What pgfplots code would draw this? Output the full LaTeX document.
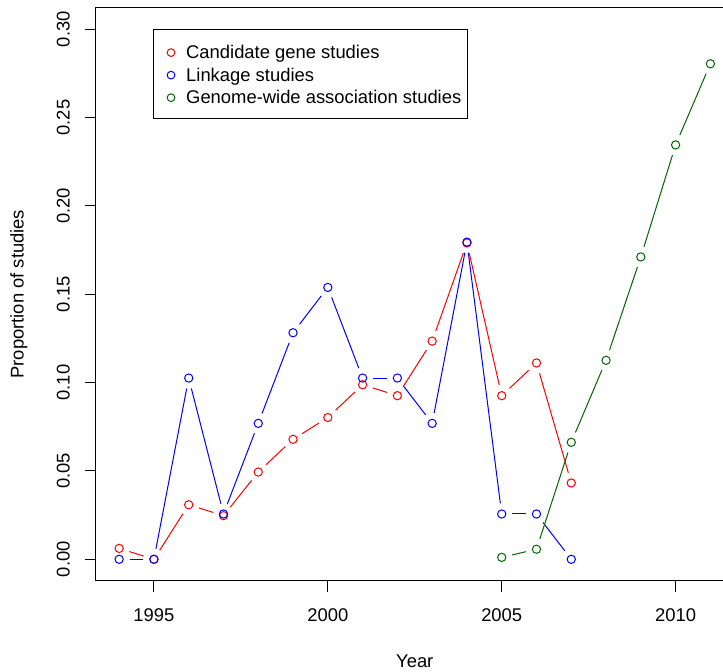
\documentclass[border=0pt]{standalone}
\usepackage{pgfplots}
\pgfplotsset{compat=1.18}
\usepackage{fontspec}
\setmainfont{Liberation Sans}
\definecolor{rgreen}{RGB}{0,100,0}
\newcommand{\fnt}{\fontsize{13.8}{16.5}\selectfont}
\newcommand{\seg}[5]{\addplot[#1,no marks,forget plot,line width=0.75pt,shorten <=8pt,shorten >=8pt] coordinates {(#2,#3) (#4,#5)};}
\begin{document}
\begin{tikzpicture}
\begin{axis}[
  name=ax,
  scale only axis,
  width=478.9pt, height=429.4pt,
  xmin=1993.32, xmax=2011.68,
  ymin=-0.012, ymax=0.312,
  axis line style={line width=0.75pt},
  tick style={line width=0.75pt, black},
  tick align=outside,
  tick pos=left,
  major tick length=8.25pt,
  xtick={1995,2000,2005,2010},
  xticklabels={1995,2000,2005,2010},
  ytick={0,0.05,0.10,0.15,0.20,0.25,0.30},
  yticklabels={0.00,0.05,0.10,0.15,0.20,0.25,0.30},
  tick label style={font=\fnt},
  xticklabel style={anchor=center},
  yticklabel style={rotate=90, anchor=center},
  xticklabel shift=17.5pt,
  yticklabel shift=16pt,
  xlabel={Year},
  ylabel={Proportion of studies},
  label style={font=\fnt},
  xlabel style={at={([yshift=-60.4pt]axis description cs:0.5,0)}, anchor=center},
  ylabel style={at={([xshift=-57.4pt]axis description cs:0,0.5)}, anchor=center, rotate=0},
  legend style={at={(axis description cs:0.0906,0.9633)}, anchor=north west,
    draw=black, line width=0.75pt, inner xsep=4.5pt, inner ysep=8pt,
    font=\fnt, nodes={inner xsep=0pt, inner ysep=0pt, text height=14pt, text depth=2.9pt},
    /tikz/every even column/.append style={column sep=2pt}},
  legend cell align=left,
  legend image code/.code={\draw[#1] plot[only marks] coordinates {(8pt,-0.9pt)}; \path (0pt,0pt) (19pt,0pt);},
]
% Candidate gene studies
\seg{red}{1994}{0.00617}{1995}{0}
\seg{red}{1995}{0}{1996}{0.03086}
\seg{red}{1996}{0.03086}{1997}{0.02469}
\seg{red}{1997}{0.02469}{1998}{0.04938}
\seg{red}{1998}{0.04938}{1999}{0.06790}
\seg{red}{1999}{0.06790}{2000}{0.08025}
\seg{red}{2000}{0.08025}{2001}{0.09877}
\seg{red}{2001}{0.09877}{2002}{0.09259}
\seg{red}{2002}{0.09259}{2003}{0.12346}
\seg{red}{2003}{0.12346}{2004}{0.17901}
\seg{red}{2004}{0.17901}{2005}{0.09259}
\seg{red}{2005}{0.09259}{2006}{0.11111}
\seg{red}{2006}{0.11111}{2007}{0.04321}
\addplot[red, only marks, mark=o, mark size=3.1pt, line width=0.75pt, forget plot] coordinates {
(1994,0.00617) (1995,0) (1996,0.03086) (1997,0.02469) (1998,0.04938) (1999,0.06790) (2000,0.08025)
(2001,0.09877) (2002,0.09259) (2003,0.12346) (2004,0.17901) (2005,0.09259) (2006,0.11111) (2007,0.04321)};
% Linkage studies
\seg{blue}{1994}{0}{1995}{0}
\seg{blue}{1995}{0}{1996}{0.10256}
\seg{blue}{1996}{0.10256}{1997}{0.02564}
\seg{blue}{1997}{0.02564}{1998}{0.07692}
\seg{blue}{1998}{0.07692}{1999}{0.12821}
\seg{blue}{1999}{0.12821}{2000}{0.15385}
\seg{blue}{2000}{0.15385}{2001}{0.10256}
\seg{blue}{2001}{0.10256}{2002}{0.10256}
\seg{blue}{2002}{0.10256}{2003}{0.07692}
\seg{blue}{2003}{0.07692}{2004}{0.17949}
\seg{blue}{2004}{0.17949}{2005}{0.02564}
\seg{blue}{2005}{0.02564}{2006}{0.02564}
\seg{blue}{2006}{0.02564}{2007}{0}
\addplot[blue, only marks, mark=o, mark size=3.1pt, line width=0.75pt, forget plot] coordinates {
(1994,0) (1995,0) (1996,0.10256) (1997,0.02564) (1998,0.07692) (1999,0.12821) (2000,0.15385)
(2001,0.10256) (2002,0.10256) (2003,0.07692) (2004,0.17949) (2005,0.02564) (2006,0.02564) (2007,0)};
% GWAS
\seg{rgreen}{2005}{0.0011}{2006}{0.0057}
\seg{rgreen}{2006}{0.0057}{2007}{0.0662}
\seg{rgreen}{2007}{0.0662}{2008}{0.1126}
\seg{rgreen}{2008}{0.1126}{2009}{0.1711}
\seg{rgreen}{2009}{0.1711}{2010}{0.2345}
\seg{rgreen}{2010}{0.2345}{2011}{0.2804}
\addplot[rgreen, only marks, mark=o, mark size=3.1pt, line width=0.75pt, forget plot] coordinates {
(2005,0.0011) (2006,0.0057) (2007,0.0662) (2008,0.1126) (2009,0.1711) (2010,0.2345) (2011,0.2804)};
\addlegendimage{red, mark=o, mark size=2.9pt, line width=0.75pt}
\addlegendentry{Candidate gene studies}
\addlegendimage{blue, mark=o, mark size=2.9pt, line width=0.75pt}
\addlegendentry{Linkage studies}
\addlegendimage{rgreen, mark=o, mark size=2.9pt, line width=0.75pt}
\addlegendentry{Genome-wide association studies}
\end{axis}
\pgfresetboundingbox
\path ([shift={(-71.625pt,-67.875pt)}]ax.south west) rectangle ([shift={(470.625pt,435.375pt)}]ax.south west);
\end{tikzpicture}
\end{document}
